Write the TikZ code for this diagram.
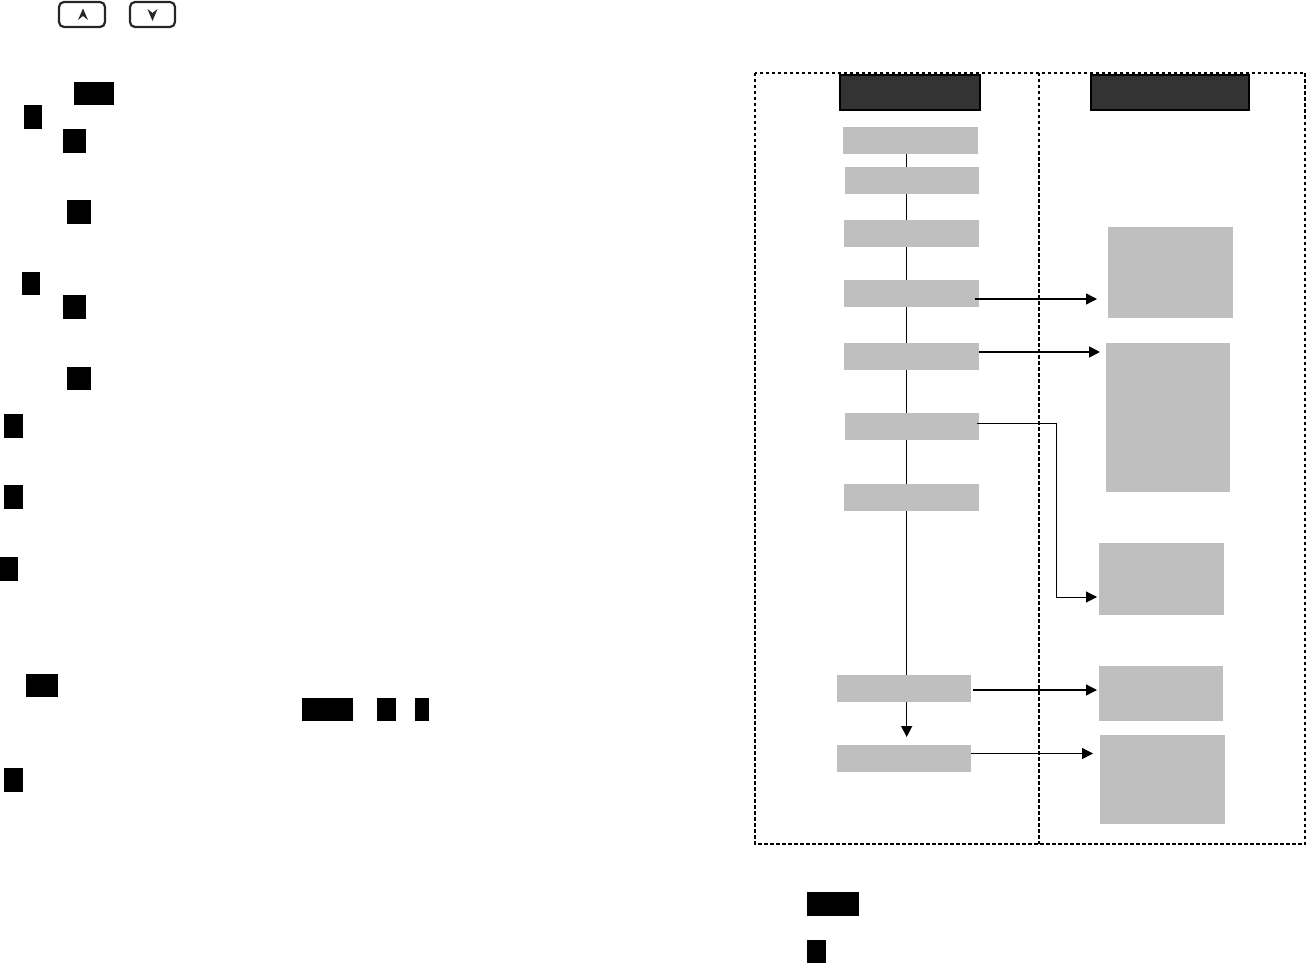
\documentclass[tikz,border=0pt]{standalone}
\usetikzlibrary{arrows.meta,backgrounds}
\definecolor{boxgrey}{RGB}{191,191,191}
\definecolor{headgrey}{RGB}{51,51,51}
\tikzset{
  greybox/.style={fill=boxgrey,draw=none},
  redact/.style={fill=black,draw=none},
  headbox/.style={fill=headgrey,draw=black,line width=1.3pt},
  frameline/.style={draw=black,line width=1.3pt,dash pattern=on 3.5pt off 2.5pt},
  keycap/.style={draw=black!85,line width=2.2pt,rounded corners=5pt,fill=white},
  flow/.style={draw=black,line width=1.3pt,-{Triangle[length=11pt,width=11pt]}},
  thinflow/.style={draw=black,line width=1pt,-{Triangle[length=11pt,width=11pt]}}
}
% \bx{name}{style}{x0}{y0}{x1}{y1} : a box given by its pixel corners
\newcommand{\bx}[6]{%
  \pgfmathsetmacro{\bxw}{#5-#3}\pgfmathsetmacro{\bxh}{#6-#4}%
  \node[#2,anchor=north west,inner sep=0pt,outer sep=0pt,
        minimum width=\bxw pt,minimum height=\bxh pt] (#1) at (#3,#4) {};}
\begin{document}
\begin{tikzpicture}[x=1pt,y=-1pt]
\useasboundingbox (0,0) rectangle (1306,963);

% keys
\bx{keyup}{keycap}{59}{2}{105}{27}
\bx{keydown}{keycap}{130}{2}{175}{27}
\fill[black!85] (83,8.5) -- (88,20) -- (83,16) -- (78,20) -- cycle;
\fill[black!85] (152.5,21) -- (147.5,9) -- (152.5,13) -- (157.5,9) -- cycle;

% redaction blocks, left column
\bx{k1}{redact}{74}{82}{114}{105}
\bx{k2}{redact}{24}{105}{42}{129}
\bx{k3}{redact}{63}{129}{86}{153}
\bx{k4}{redact}{67}{200}{91}{224}
\bx{k5}{redact}{22}{272}{40}{295}
\bx{k6}{redact}{63}{295}{86}{319}
\bx{k7}{redact}{67}{367}{91}{390}
\bx{k8}{redact}{4}{414}{23}{438}
\bx{k9}{redact}{4}{485}{23}{509}
\bx{k10}{redact}{0}{557}{18}{581}
\bx{k11}{redact}{26}{674}{58}{697}
\bx{k12}{redact}{302}{698}{353}{721}
\bx{k13}{redact}{377}{698}{396}{721}
\bx{k14}{redact}{415}{698}{429}{721}
\bx{k15}{redact}{4}{768}{23}{792}
\bx{k16}{redact}{807}{892}{859}{916}
\bx{k17}{redact}{807}{940}{826}{963}

% headers
\bx{hl}{headbox}{840}{75}{980}{110}
\bx{hr}{headbox}{1091}{75}{1249}{110}

% flow boxes
\bx{b1}{greybox}{843}{127}{978}{154}
\bx{b2}{greybox}{845}{167}{979}{194}
\bx{b3}{greybox}{844}{220}{979}{247}
\bx{b4}{greybox}{844}{280}{979}{307}
\bx{b5}{greybox}{844}{343}{979}{370}
\bx{b6}{greybox}{845}{413}{979}{440}
\bx{b7}{greybox}{844}{484}{979}{511}
\bx{b8}{greybox}{837}{675}{971}{702}
\bx{b9}{greybox}{837}{745}{971}{772}

% result boxes
\bx{r1}{greybox}{1108}{227}{1233}{318}
\bx{r2}{greybox}{1106}{343}{1230}{492}
\bx{r3}{greybox}{1099}{543}{1224}{615}
\bx{r4}{greybox}{1099}{666}{1223}{721}
\bx{r5}{greybox}{1100}{735}{1225}{824}

% connector ends
\coordinate (top) at (906.7,154);
\coordinate (tip) at (906.7,737);
\coordinate (a4) at (1097,299);
\coordinate (a5) at (1100,352);
\coordinate (a6) at (1097,597);
\coordinate (e6) at (979,423);
\coordinate (a8) at (1097,690);
\coordinate (a9) at (1093,753.5);

\begin{scope}[on background layer]
  \draw[frameline] (755,73) rectangle (1305,844);
  \draw[frameline] (1039,73) -- (1039,844);
  \draw[flow] (top) -- (tip);
\end{scope}

\draw[flow,shorten <=-4pt] (b4.east |- a4) -- (a4);
\draw[flow,line width=1.8pt] (b5.east |- a5) -- (a5);
\draw[thinflow] (e6) ++(-2,0) -- (1056,423) -- (1056,597) -- (a6);
\draw[flow,shorten <=2pt] (a8 -| b8.east) -- (a8);
\draw[flow] (a9 -| b9.east) -- (a9);
\end{tikzpicture}
\end{document}
